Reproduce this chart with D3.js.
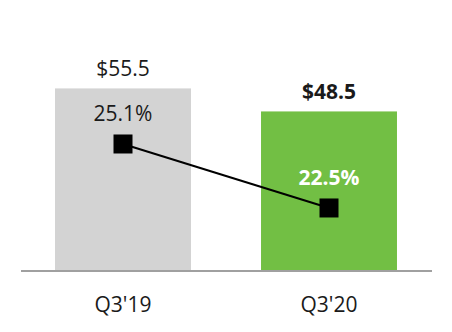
<!DOCTYPE html>
<html>
<head>
<meta charset="utf-8">
<script src="https://cdn.jsdelivr.net/npm/d3@7"></script>
<style>
  html, body { margin: 0; padding: 0; background: #fff; }
  svg { display: block; }
  text { font-family: "Open Sans", "Noto Sans", sans-serif; }
</style>
</head>
<body>
<svg id="chart" width="452" height="332"></svg>
<script>
const categories = ["Q3'19", "Q3'20"];
const revenue = [55.5, 48.5];
const revenueLabels = ["$55.5", "$48.5"];
const margin = [25.1, 22.5];
const marginLabels = ["25.1%", "22.5%"];
const barColors = ["#d3d3d3", "#72bf44"];

const svg = d3.select("#chart");
const baseY = 271;
const fs = 21;

const x = d3.scaleBand().domain(categories).range([20, 432])
  .paddingInner(0.34).paddingOuter(0.17);
const y = d3.scaleLinear().domain([0, 60]).range([baseY, baseY - 60 * 3.29]);
const y2 = d3.scaleLinear().domain([20, 30]).range([269.5, 23.4]);

// bars
svg.selectAll("rect.bar").data(categories).join("rect")
  .attr("class", "bar")
  .attr("x", d => x(d))
  .attr("width", x.bandwidth())
  .attr("y", (d, i) => y(revenue[i]))
  .attr("height", (d, i) => y(0) - y(revenue[i]))
  .attr("fill", (d, i) => barColors[i]);

// axis
const axis = svg.append("g").attr("transform", `translate(0,${baseY})`)
  .call(d3.axisBottom(x).tickSize(0).tickPadding(26));
axis.select(".domain").attr("stroke", "#a0a0a0").attr("stroke-width", 2)
  .attr("d", "M21,0H432");
axis.selectAll(".tick text")
  .attr("font-family", "'Open Sans', sans-serif")
  .attr("font-size", fs).attr("fill", "#1a1a1a")
  .attr("dy", "0.71em");

// revenue labels
svg.selectAll("text.rev").data(categories).join("text")
  .attr("class", "rev")
  .attr("x", d => x(d) + x.bandwidth() / 2)
  .attr("y", (d, i) => y(revenue[i]) - 12)
  .attr("text-anchor", "middle")
  .attr("font-size", fs)
  .attr("font-weight", (d, i) => i === 1 ? "bold" : "normal")
  .attr("fill", "#1a1a1a")
  .text((d, i) => revenueLabels[i]);

// line
const line = d3.line()
  .x((d, i) => x(categories[i]) + x.bandwidth() / 2)
  .y(d => y2(d));
svg.append("path").datum(margin)
  .attr("d", line).attr("fill", "none")
  .attr("stroke", "#000").attr("stroke-width", 2);

const sz = 19;
svg.selectAll("rect.mk").data(margin).join("rect")
  .attr("class", "mk")
  .attr("x", (d, i) => x(categories[i]) + x.bandwidth() / 2 - sz / 2)
  .attr("y", d => y2(d) - sz / 2)
  .attr("width", sz).attr("height", sz)
  .attr("fill", "#000");

svg.selectAll("text.mg").data(margin).join("text")
  .attr("class", "mg")
  .attr("x", (d, i) => x(categories[i]) + x.bandwidth() / 2)
  .attr("y", d => y2(d) - 23)
  .attr("text-anchor", "middle")
  .attr("font-size", fs)
  .attr("font-weight", (d, i) => i === 1 ? "bold" : "normal")
  .attr("fill", (d, i) => i === 1 ? "#ffffff" : "#1a1a1a")
  .text((d, i) => marginLabels[i]);
</script>
</body>
</html>
